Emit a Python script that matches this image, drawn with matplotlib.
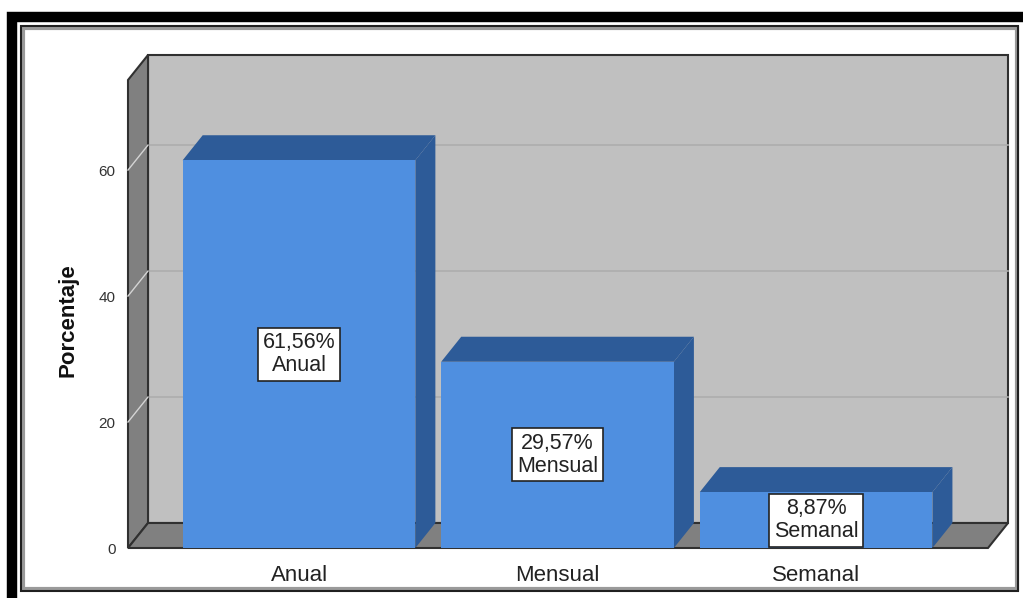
import matplotlib
matplotlib.use("Agg")
import matplotlib.pyplot as plt
from matplotlib.patches import Polygon, Rectangle

plt.rcParams['font.family'] = ['Liberation Sans', 'DejaVu Sans']

categories = ['Anual', 'Mensual', 'Semanal']
percentages = [61.56, 29.57, 8.87]
value_labels = ['61,56%', '29,57%', '8,87%']
y_ticks = [0, 20, 40, 60]

W, H = 1023, 598
fig = plt.figure(figsize=(W / 100, H / 100), dpi=100)

# front plane of the 3D box, in pixels
left_px, right_px, top_px, bottom_px = 128, 988, 80, 548
ax = fig.add_axes([left_px / W, 1 - bottom_px / H,
                   (right_px - left_px) / W, (bottom_px - top_px) / H])

x0, x1 = -0.6615, 2.665
y_max = 74.3
ax.set_xlim(x0, x1)
ax.set_ylim(0, y_max)
for s in ax.spines.values():
    s.set_visible(False)
ax.set_facecolor('none')

# depth of the box (data units)
dx, dy = 0.0774, 3.97
bar_w = 0.9

wall = '#c0c0c0'
side_wall = '#808080'
edge = '#303030'
bar_face = '#4f8fe0'
bar_dark = '#2d5b98'

# back wall
ax.add_patch(Rectangle((x0 + dx, dy), x1 - x0, y_max, facecolor=wall,
                       edgecolor=edge, lw=1.5, clip_on=False, zorder=1))
# left wall
ax.add_patch(Polygon([(x0, 0), (x0 + dx, dy), (x0 + dx, y_max + dy), (x0, y_max)],
                     closed=True, facecolor=side_wall, edgecolor=edge, lw=1.5,
                     clip_on=False, zorder=2))
# floor
ax.add_patch(Polygon([(x0, 0), (x1, 0), (x1 + dx, dy), (x0 + dx, dy)],
                     closed=True, facecolor=side_wall, edgecolor=edge, lw=1.5,
                     clip_on=False, zorder=2))

# grid lines on the back and left walls
for t in y_ticks[1:]:
    ax.plot([x0 + dx, x1 + dx], [t + dy, t + dy], color='#adadad', lw=1.2,
            clip_on=False, zorder=1.5)
    ax.plot([x0, x0 + dx], [t, t + dy], color='#d4d4d4', lw=1.0,
            clip_on=False, zorder=2.5)

# 3D bars
for i, v in enumerate(percentages):
    l, r = i - bar_w / 2, i + bar_w / 2
    ax.add_patch(Polygon([(r, 0), (r + dx, dy), (r + dx, v + dy), (r, v)],
                         closed=True, facecolor=bar_dark, edgecolor='none',
                         clip_on=False, zorder=3))
    ax.add_patch(Polygon([(l, v), (r, v), (r + dx, v + dy), (l + dx, v + dy)],
                         closed=True, facecolor=bar_dark, edgecolor='none',
                         clip_on=False, zorder=3))
    ax.add_patch(Rectangle((l, 0), bar_w, v, facecolor=bar_face,
                           edgecolor='none', clip_on=False, zorder=4))
    ax.text(i, v / 2, f'{value_labels[i]}\n{categories[i]}', ha='center',
            va='center', fontsize=15.5, color='#222222', linespacing=1.1,
            zorder=5,
            bbox=dict(boxstyle='square,pad=0.22', facecolor='white',
                      edgecolor='#222222', lw=1.2))

ax.set_xticks(range(len(categories)))
ax.set_xticklabels(categories, fontsize=16, color='#222222')
ax.set_yticks(y_ticks)
ax.set_yticklabels([str(t) for t in y_ticks], fontsize=11, color='#333333')
ax.tick_params(axis='x', length=0, pad=12)
ax.tick_params(axis='y', length=0, pad=9)
ax.set_ylabel('Porcentaje', fontsize=16, fontweight='bold', color='#111111')
ax.yaxis.set_label_coords(-0.058, 0.487)

# frames around the chart
fig.patches.append(Rectangle((12 / W, -20 / H), 1040 / W, (598 - 16.5 + 20) / H,
                             transform=fig.transFigure, fill=False,
                             edgecolor='black', lw=7.5))
fig.patches.append(Rectangle((23 / W, 1 - 589 / H), 994 / W, 561 / H,
                             transform=fig.transFigure, fill=False,
                             edgecolor='#9a9a9a', lw=3))
fig.patches.append(Rectangle((21 / W, 1 - 591 / H), 997 / W, 565 / H,
                             transform=fig.transFigure, fill=False,
                             edgecolor='#202020', lw=1.5))

fig.savefig('out.png', dpi=100)
